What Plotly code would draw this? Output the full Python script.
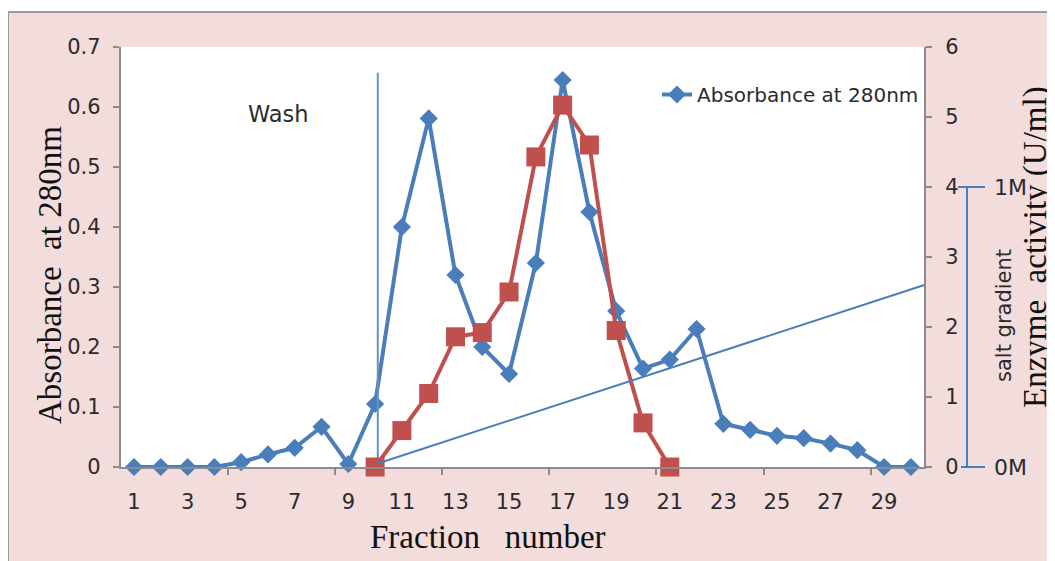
import plotly.graph_objects as go

# ---------------- data ----------------
fractions = list(range(1, 31))
absorbance_280 = [0, 0, 0, 0, 0.008, 0.021, 0.032, 0.067, 0.005, 0.105,
                  0.40, 0.581, 0.32, 0.20, 0.155, 0.34, 0.645, 0.425, 0.26, 0.164,
                  0.179, 0.23, 0.072, 0.062, 0.052, 0.048, 0.039, 0.028, 0, 0]
activity_fractions = list(range(10, 22))
enzyme_activity = [0, 0.52, 1.05, 1.86, 1.92, 2.5, 4.43, 5.17, 4.6, 1.95, 0.63, 0]

wash_x = [10.1, 10.1]
wash_y = [0, 0.657]
gradient_x = [10.1, 30.5]
gradient_y = [0.05, 2.6]          # on enzyme-activity scale
salt_levels_M = [0, 1]            # 0M .. 1M
salt_labels = ["0M", "1M"]

x_labels = list(range(1, 30, 2))
x_tickmarks = [4.5, 8.5, 12.5, 16.5, 20.5, 24.5, 28.5]

# ---------------- geometry (window px; page body has an 8px margin) ----------------
W, H = 1055, 561
OFF = 8
PL, PR, PT, PB = 120.6, 924.3, 47, 467
def px(x): return (x - OFF) / W
def py(y): return 1 - (y - OFF) / H

BLUE = "#4a7ebb"
RED = "#c0504d"
GRAY = "#8c8c8c"
PINK = "#f2dcdc"
TXT = "#2b2b2b"
TICKFONT = dict(family="DejaVu Sans", size=21, color=TXT)
SERIF = dict(family="Liberation Serif", size=33, color="#111111")

fig = go.Figure()

fig.add_trace(go.Scatter(x=fractions, y=absorbance_280, mode="lines+markers",
                         name="Absorbance at 280nm",
                         line=dict(color=BLUE, width=4),
                         marker=dict(symbol="diamond", size=14, color=BLUE),
                         cliponaxis=False, xaxis="x", yaxis="y"))
fig.add_trace(go.Scatter(x=activity_fractions, y=enzyme_activity, mode="lines+markers",
                         name="Enzyme activity", showlegend=False,
                         line=dict(color=RED, width=4),
                         marker=dict(symbol="square", size=19, color=RED),
                         cliponaxis=False, xaxis="x", yaxis="y2"))
fig.add_trace(go.Scatter(x=wash_x, y=wash_y, mode="lines", showlegend=False,
                         line=dict(color="#6891c9", width=2), hoverinfo="skip",
                         xaxis="x", yaxis="y"))
fig.add_trace(go.Scatter(x=gradient_x, y=gradient_y, mode="lines", showlegend=False,
                         line=dict(color=BLUE, width=2), hoverinfo="skip",
                         xaxis="x", yaxis="y2"))

# salt gradient scale (separate small subplot to the right)
scale_span = 1.5
px_per_M = (PB - PT) / scale_span
pad_M = 0.1
x4_lo, x4_hi = 945, 1000
fig.add_trace(go.Scatter(x=[967, 967], y=[salt_levels_M[0], salt_levels_M[1]], mode="lines",
                         showlegend=False, line=dict(color=BLUE, width=2),
                         hoverinfo="skip", xaxis="x4", yaxis="y4"))
fig.add_trace(go.Scatter(x=[958, 985], y=[salt_levels_M[1], salt_levels_M[1]], mode="lines",
                         showlegend=False, line=dict(color=BLUE, width=2),
                         hoverinfo="skip", xaxis="x4", yaxis="y4"))
fig.add_trace(go.Scatter(x=[961, 985], y=[salt_levels_M[0], salt_levels_M[0]], mode="lines",
                         showlegend=False, line=dict(color=BLUE, width=2),
                         hoverinfo="skip", xaxis="x4", yaxis="y4"))

# tick-mark-only axis
fig.add_trace(go.Scatter(x=[1], y=[None], showlegend=False, hoverinfo="skip",
                         xaxis="x3", yaxis="y"))

annotations = [
    dict(text="Absorbance\u00a0\u00a0at 280nm", x=px(50), y=py(275), xref="paper", yref="paper",
         textangle=-90, showarrow=False, font=SERIF, xanchor="center", yanchor="middle"),
    dict(text="Enzyme\u00a0\u00a0activity (U/ml)", x=px(1035), y=py(247), xref="paper", yref="paper",
         textangle=-90, showarrow=False, font=SERIF, xanchor="center", yanchor="middle"),
    dict(text="Fraction\u00a0\u00a0\u00a0number", x=px(488), y=py(537), xref="paper", yref="paper",
         showarrow=False, font=SERIF, xanchor="center", yanchor="middle"),
    dict(text="Wash", x=px(278), y=py(114), xref="paper", yref="paper",
         showarrow=False, font=dict(family="DejaVu Sans", size=22.5, color=TXT),
         xanchor="center", yanchor="middle"),
    dict(text="salt gradient", x=px(1004), y=py(316), xref="paper", yref="paper",
         textangle=-90, showarrow=False, font=dict(family="DejaVu Sans", size=21, color=TXT),
         xanchor="center", yanchor="middle"),
]
for lvl, lab in zip(salt_levels_M, salt_labels):
    annotations.append(dict(text=lab, x=992, y=lvl, xref="x4", yref="y4", showarrow=False,
                            xanchor="left", yanchor="middle",
                            font=dict(family="DejaVu Sans", size=22, color=TXT)))

y_dom = [py(PB), py(PT)]
fig.update_layout(
    width=W, height=H,
    margin=dict(l=0, r=0, t=0, b=0, autoexpand=False),
    paper_bgcolor=PINK, plot_bgcolor="rgba(0,0,0,0)",
    showlegend=True,
    legend=dict(x=px(657), y=py(75), xanchor="left", yanchor="top",
                bgcolor="rgba(0,0,0,0)", font=dict(family="DejaVu Sans", size=20, color=TXT)),
    xaxis=dict(domain=[px(PL), px(PR)], range=[0.5, 30.5], tickvals=x_labels,
               ticks="", showgrid=False, zeroline=False, showline=True, linecolor=GRAY,
               linewidth=1.5, tickfont=TICKFONT, ticklabelstandoff=15, anchor="y"),
    xaxis3=dict(domain=[px(PL), px(PR)], range=[0.5, 30.5], tickvals=x_tickmarks,
                ticks="outside", ticklen=7, tickcolor=GRAY, tickwidth=1.5,
                showticklabels=False, showgrid=False, zeroline=False, showline=False,
                overlaying="x", anchor="y"),
    yaxis=dict(domain=y_dom, range=[0, 0.7], dtick=0.1, ticks="outside", ticklen=6,
               tickcolor=GRAY, tickwidth=1.5, showgrid=False, zeroline=False,
               showline=True, linecolor=GRAY, linewidth=1.5, tickfont=TICKFONT,
               ticklabelstandoff=8, anchor="x"),
    yaxis2=dict(domain=y_dom, range=[0, 6], dtick=1, ticks="outside", ticklen=6,
                tickcolor=GRAY, tickwidth=1.5, showgrid=False, zeroline=False,
                showline=True, linecolor=GRAY, linewidth=1.5, tickfont=TICKFONT,
                side="right", overlaying="y", anchor="x", ticklabelstandoff=9),
    xaxis4=dict(domain=[px(x4_lo), px(x4_hi)], range=[x4_lo, x4_hi], visible=False, anchor="y4"),
    yaxis4=dict(domain=[py(PB + pad_M * px_per_M), py(PT)], range=[-pad_M, scale_span],
                visible=False, anchor="x4"),
    annotations=annotations,
    shapes=[
        dict(type="rect", xref="x domain", yref="y domain", x0=0, x1=1, y0=0, y1=1,
             fillcolor="white", line=dict(width=0), layer="below"),
        dict(type="rect", xref="paper", yref="paper", x0=0, x1=px(8), y0=0, y1=1,
             fillcolor="white", line=dict(width=0), layer="below"),
        dict(type="rect", xref="paper", yref="paper", x0=0, x1=1, y0=py(12), y1=1,
             fillcolor="white", line=dict(width=0), layer="below"),
        dict(type="line", xref="paper", yref="paper", x0=px(8), x1=px(8), y0=0, y1=py(12),
             line=dict(color="#9a9a9a", width=2)),
        dict(type="line", xref="paper", yref="paper", x0=px(8), x1=1, y0=py(12), y1=py(12),
             line=dict(color="#9a9a9a", width=2)),
    ],
)

fig.write_html("out.html",
               post_script="document.documentElement.style.overflow='hidden';"
                           "document.body.style.overflow='hidden';")
